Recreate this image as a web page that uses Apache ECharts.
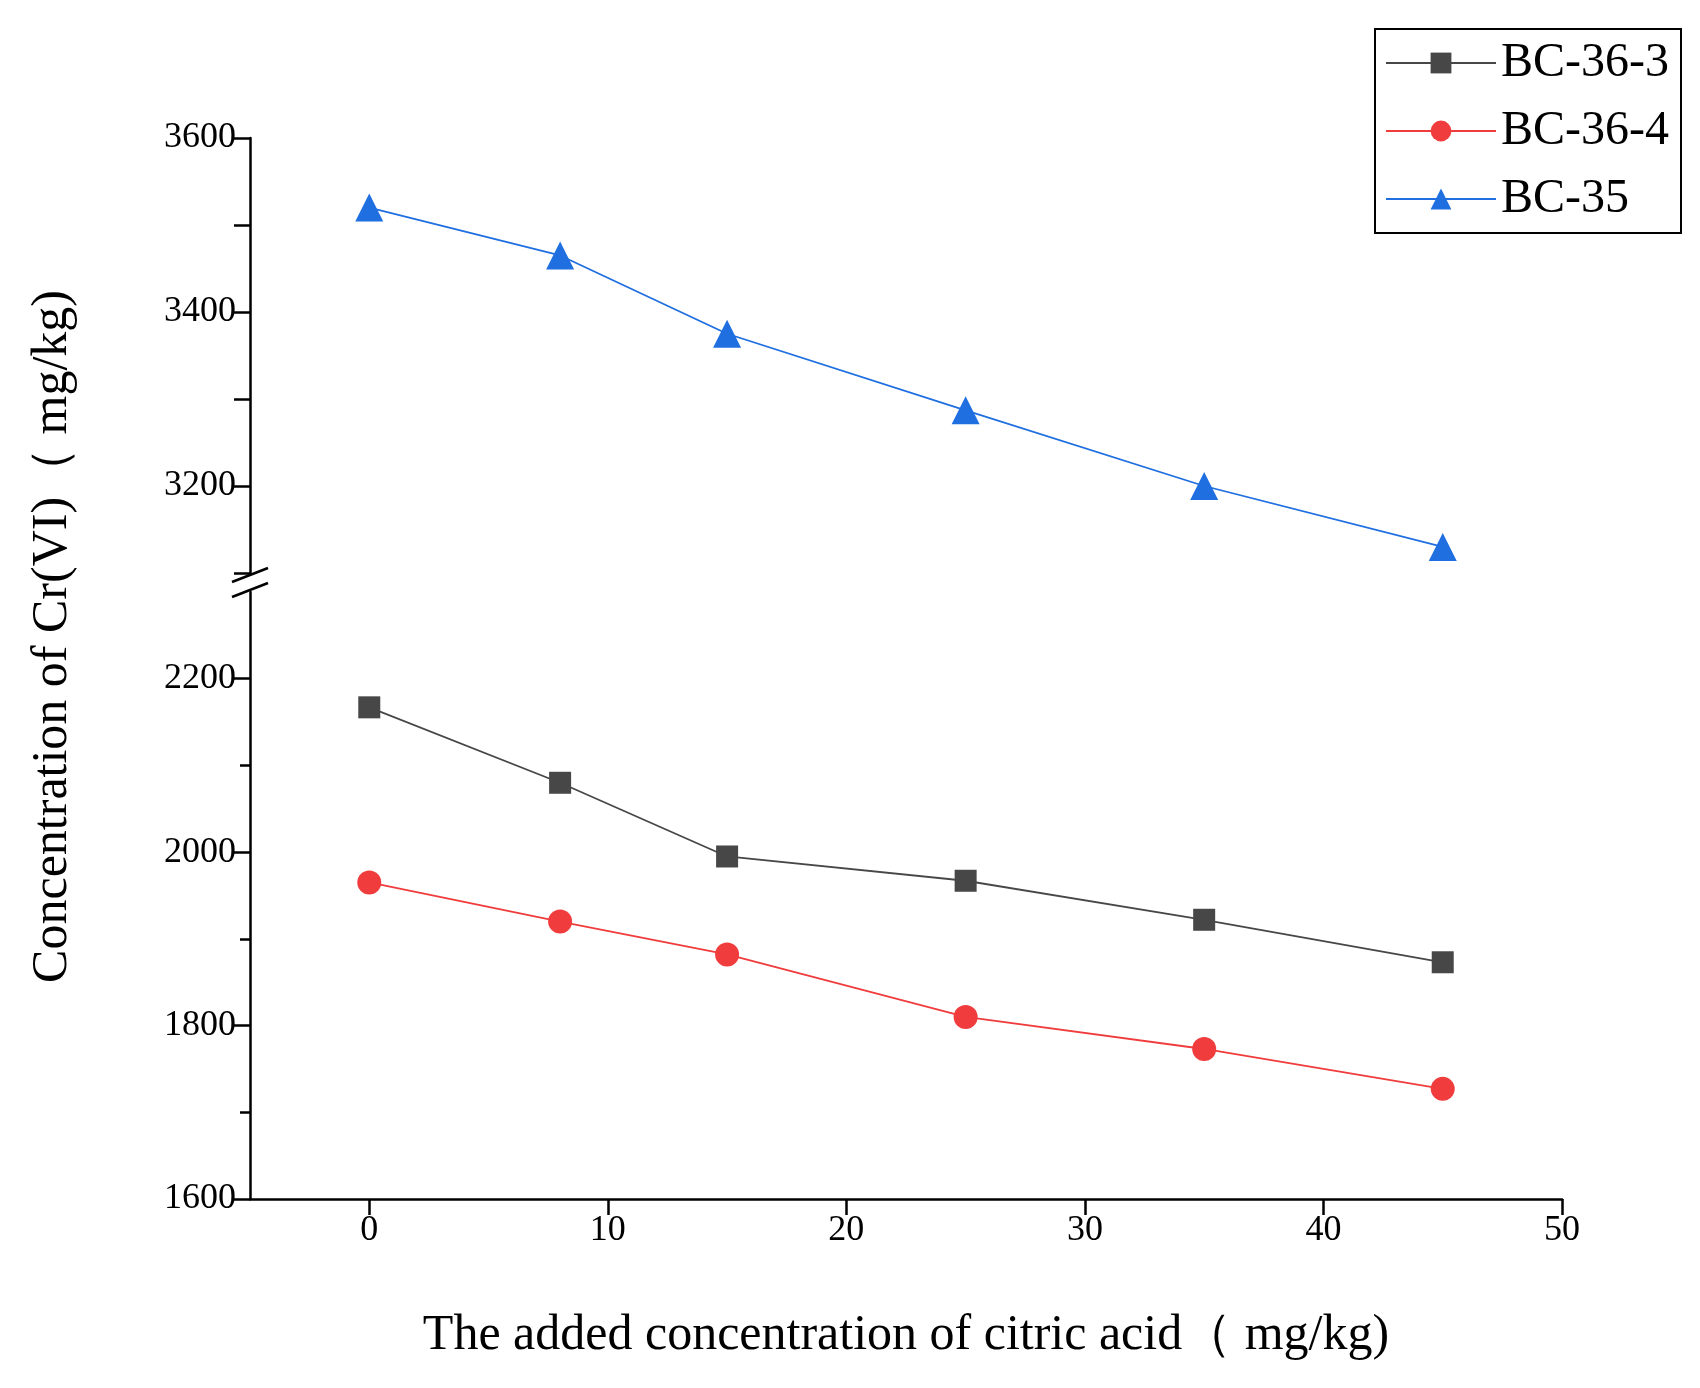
<!DOCTYPE html>
<html><head><meta charset="utf-8">
<script src="https://cdn.jsdelivr.net/npm/echarts@6/dist/echarts.min.js"></script>
<style>html,body{margin:0;background:#fff}#c{width:1700px;height:1388px}</style></head>
<body><div id="c"></div>
<script>
const xValues = [0, 8, 15, 25, 35, 45];
const bc363 = [2167, 2080, 1995, 1967, 1922, 1873];
const bc364 = [1965, 1920, 1882, 1810, 1773, 1727];
const bc35 = [3520, 3465, 3375, 3287, 3200, 3130];
const names = ['BC-36-3', 'BC-36-4', 'BC-35'];
const colors = ['#474747', '#f03c3c', '#1f6fe0'];
const xTickLabels = [0, 10, 20, 30, 40, 50];
const lowerTickLabels = [1600, 1800, 2000, 2200];
const upperTickLabels = [3200, 3400, 3600];

const font = 'Liberation Serif';
const pair = a => a.map((v, i) => [xValues[i], v]);
const lineStyle = {color: '#000', width: 2.5};
const labelStyle = {color: '#000', fontFamily: font, fontSize: 36, margin: 14};
const chart = echarts.init(document.getElementById('c'));
chart.setOption({
  animation: false,
  textStyle: {fontFamily: font},
  grid: [
    {left: 250, right: 138, top: 592, bottom: 189},
    {left: 250, right: 138, top: 138, bottom: 815}
  ],
  xAxis: [
    {gridIndex: 0, type: 'value', min: -5, max: 50, interval: 10,
     axisLine: {show: true, onZero: false, lineStyle},
     axisTick: {show: true, length: 16, lineStyle, customValues: [0,10,20,30,40,50]},
     minorTick: {show: true, splitNumber: 2, length: 10, lineStyle},
     splitLine: {show: false},
     axisLabel: Object.assign({}, labelStyle, {customValues: xTickLabels}),
     name: 'The added concentration of citric acid（ mg/kg)', nameLocation: 'middle', nameGap: 112,
     nameTextStyle: {color: '#000', fontFamily: font, fontSize: 50}},
    {gridIndex: 1, type: 'value', min: -5, max: 50, show: false}
  ],
  yAxis: [
    {gridIndex: 0, type: 'value', min: 1600, max: 2300, interval: 200,
     axisLine: {show: true, onZero: false, lineStyle},
     axisTick: {show: true, length: 16, lineStyle, customValues: lowerTickLabels},
     minorTick: {show: true, splitNumber: 2, length: 10, lineStyle},
     splitLine: {show: false},
     axisLabel: Object.assign({}, labelStyle, {customValues: lowerTickLabels, formatter: v => String(v)})},
    {gridIndex: 1, type: 'value', min: 3100, max: 3600, interval: 100,
     axisLine: {show: true, onZero: false, lineStyle},
     axisTick: {show: true, length: 16, lineStyle, customValues: [3100, 3200, 3300, 3400, 3500, 3600]},
     splitLine: {show: false},
     axisLabel: Object.assign({}, labelStyle, {customValues: upperTickLabels, formatter: v => String(v)})}
  ],
  legend: {
    right: 19, top: 29, orient: 'vertical', itemWidth: 110, itemHeight: 26, itemGap: 20,
    padding: [10, 12, 10, 10], borderColor: '#000', borderWidth: 2,
    textStyle: {fontFamily: font, fontSize: 48, color: '#000'},
    data: names
  },
  series: [
    {name: names[0], type: 'line', xAxisIndex: 0, yAxisIndex: 0, data: pair(bc363),
     symbol: 'rect', symbolSize: 22, color: colors[0], lineStyle: {width: 1.8}},
    {name: names[1], type: 'line', xAxisIndex: 0, yAxisIndex: 0, data: pair(bc364),
     symbol: 'circle', symbolSize: 24, color: colors[1], lineStyle: {width: 1.8}},
    {name: names[2], type: 'line', xAxisIndex: 1, yAxisIndex: 1, data: pair(bc35),
     symbol: 'triangle', symbolSize: 28, color: colors[2], lineStyle: {width: 1.8}}
  ],
  graphic: [
    {type: 'text', left: 28, top: 290, rotation: Math.PI / 2,
     style: {text: 'Concentration of Cr(VI)（ mg/kg)', fontFamily: font, fontSize: 50, fill: '#000'}},
    {type: 'line', shape: {x1: 232, y1: 582, x2: 268, y2: 568}, style: {stroke: '#000', lineWidth: 2.5}},
    {type: 'line', shape: {x1: 232, y1: 597, x2: 268, y2: 583}, style: {stroke: '#000', lineWidth: 2.5}}
  ]
});
</script></body></html>
